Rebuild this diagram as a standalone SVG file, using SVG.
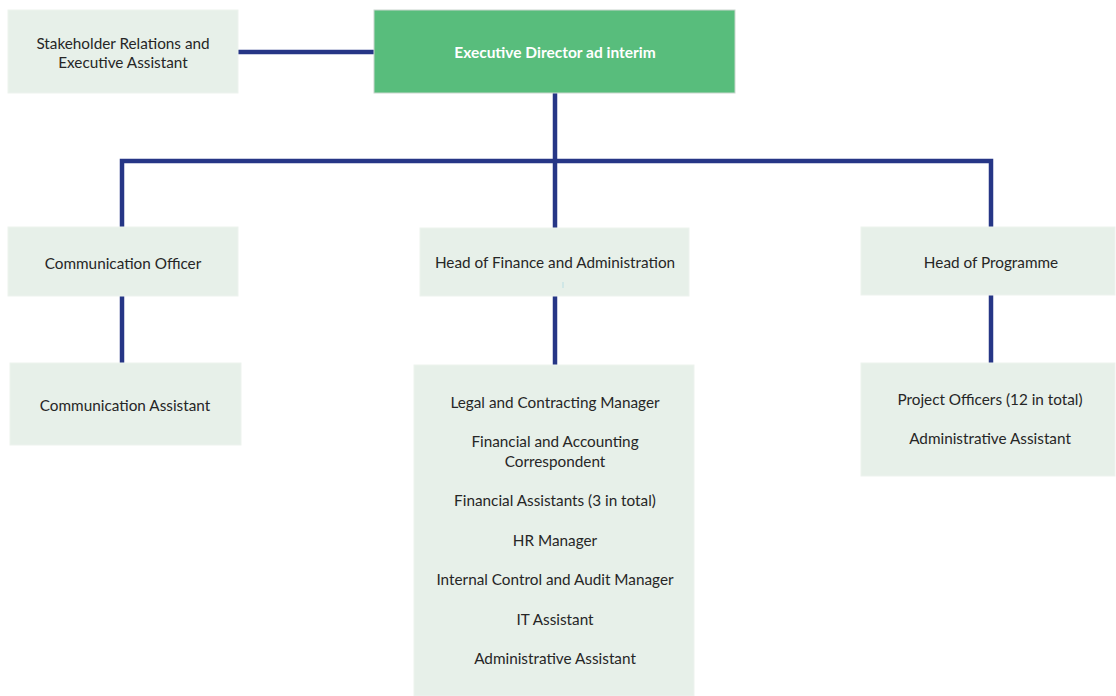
<svg xmlns="http://www.w3.org/2000/svg" width="1116" height="696" viewBox="0 0 1116 696">
  <style>
    .box { fill: #e7f0e9; stroke: #edf3ee; stroke-width: 1; }
    .lead { fill: #58bd7c; stroke: #c9d6cd; stroke-width: 1; }
    .lbl { font-family: Lato, "Liberation Sans", sans-serif; font-size: 15.3px; fill: #262626; text-anchor: middle; dominant-baseline: central; }
    .lead-lbl { font-family: Lato, "Liberation Sans", sans-serif; font-size: 15.5px; font-weight: bold; fill: #ffffff; text-anchor: middle; dominant-baseline: central; }
    .link { stroke: #263686; stroke-width: 4.5; fill: none; stroke-linecap: butt; stroke-linejoin: miter; }
  </style>
  <rect width="1116" height="696" fill="#ffffff"/>

  <g id="connectors">
    <line class="link" x1="238" y1="52" x2="374" y2="52"/>
    <line class="link" x1="555" y1="93" x2="555" y2="228"/>
    <polyline class="link" points="122,227 122,161 991,161 991,227"/>
    <line class="link" x1="122" y1="296" x2="122" y2="363"/>
    <line class="link" x1="555" y1="296" x2="555" y2="365"/>
    <line class="link" x1="991" y1="295" x2="991" y2="363"/>
  </g>

  <g id="stakeholder-relations">
    <rect class="box" x="8" y="10" width="230" height="83"/>
    <text class="lbl" x="123" y="43">Stakeholder Relations and</text>
    <text class="lbl" x="123" y="62">Executive Assistant</text>
  </g>

  <g id="executive-director">
    <rect class="lead" x="374" y="10" width="361" height="83"/>
    <text class="lead-lbl" x="555" y="52">Executive Director ad interim</text>
  </g>

  <g id="communication-officer">
    <rect class="box" x="8" y="227" width="230" height="69"/>
    <text class="lbl" x="123" y="263">Communication Officer</text>
  </g>

  <g id="head-finance">
    <rect class="box" x="420" y="228" width="269" height="68"/>
    <text class="lbl" x="555" y="262">Head of Finance and Administration</text>
    <rect x="562.5" y="282" width="1" height="6" fill="#b9dde3"/>
  </g>

  <g id="head-programme">
    <rect class="box" x="861" y="227" width="254" height="68"/>
    <text class="lbl" x="991" y="262">Head of Programme</text>
  </g>

  <g id="communication-assistant">
    <rect class="box" x="10" y="363" width="231" height="82"/>
    <text class="lbl" x="125" y="405">Communication Assistant</text>
  </g>

  <g id="finance-staff">
    <rect class="box" x="414" y="365" width="280" height="331"/>
    <text class="lbl" x="555" y="402">Legal and Contracting Manager</text>
    <text class="lbl" x="555" y="441">Financial and Accounting</text>
    <text class="lbl" x="555" y="461">Correspondent</text>
    <text class="lbl" x="555" y="500">Financial Assistants (3 in total)</text>
    <text class="lbl" x="555" y="540">HR Manager</text>
    <text class="lbl" x="555" y="579">Internal Control and Audit Manager</text>
    <text class="lbl" x="555" y="619">IT Assistant</text>
    <text class="lbl" x="555" y="658">Administrative Assistant</text>
  </g>

  <g id="programme-staff">
    <rect class="box" x="861" y="363" width="254" height="113"/>
    <text class="lbl" x="990" y="399">Project Officers (12 in total)</text>
    <text class="lbl" x="990" y="438">Administrative Assistant</text>
  </g>
</svg>
